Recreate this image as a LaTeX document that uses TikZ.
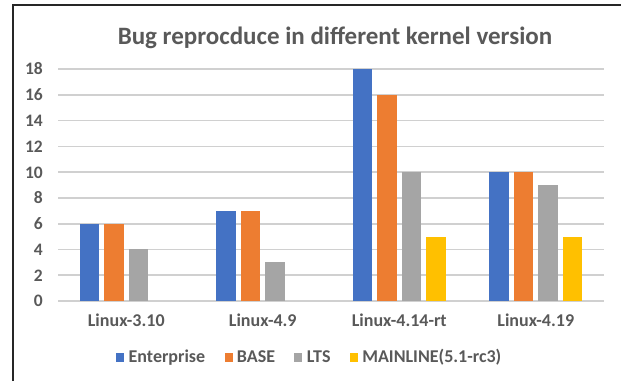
\documentclass[tikz,border=0pt]{standalone}
\usepackage{fontspec}
\setmainfont{Carlito}
\usetikzlibrary{positioning}
\definecolor{entblue}{HTML}{4472C4}
\definecolor{baseorange}{HTML}{ED7D31}
\definecolor{ltsgray}{HTML}{A5A5A5}
\definecolor{mainyellow}{HTML}{FFC000}
\definecolor{txtgray}{HTML}{595959}
\definecolor{gridgray}{HTML}{D0D0D0}

\begin{document}
\begin{tikzpicture}[x=1pt,y=-1pt,node distance=4pt]
\tikzstyle{gridln}=[draw=gridgray,line width=1.6pt]
\tikzstyle{ticktxt}=[anchor=base east,inner sep=0pt,text=txtgray,font=\fontsize{17.5}{19}\selectfont\bfseries]
\tikzstyle{cattxt}=[anchor=base,inner sep=0pt,text=txtgray,font=\fontsize{18}{20}\selectfont\bfseries]
\tikzstyle{legtxt}=[inner sep=0pt,text height=11pt,text depth=0pt,text=txtgray,font=\fontsize{18}{20}\selectfont\bfseries]
\tikzstyle{legsq}=[rectangle,inner sep=0pt,minimum width=8pt,minimum height=9pt]

\useasboundingbox (0,0) rectangle (621,381);
\draw[line width=1.5pt,black!85] (13,381) -- (13,5) -- (621,5);

\node[anchor=base,inner sep=0pt,text=txtgray,font=\fontsize{25}{28}\selectfont\bfseries] (title) at (335,44.5) {Bug reprocduce in different kernel version};

% grid lines and tick labels
\foreach \v in {0,2,...,18} {
  \draw[gridln] (58,{301-12.88*\v}) -- (604,{301-12.88*\v});
  \node[ticktxt] (tick\v) at (43,{306.8-12.88*\v}) {\v};
}

% bars
\foreach \lbl/\a/\b/\c/\d [count=\i from 0] in {Linux-3.10/6/6/4/0,Linux-4.9/7/7/3/0,Linux-4.14-rt/18/16/10/5,Linux-4.19/10/10/9/5} {
  \pgfmathsetmacro\cx{126.25+136.5*\i}
  \fill[entblue] ({\cx-46.65},301) rectangle ({\cx-27.15},{301-12.88*\a});
  \fill[baseorange] ({\cx-22.05},301) rectangle ({\cx-2.55},{301-12.88*\b});
  \fill[ltsgray] ({\cx+2.55},301) rectangle ({\cx+22.05},{301-12.88*\c});
  \ifnum\d>0
    \fill[mainyellow] ({\cx+27.15},301) rectangle ({\cx+46.65},{301-12.88*\d});
  \fi
  \node[cattxt] (cat\i) at (\cx,326.7) {\lbl};
}

% legend
\node[legsq,fill=entblue] (sqA) at (120.3,357) {};
\node[legtxt,right=4pt of sqA] (txA) {Enterprise};
\node[legsq,fill=baseorange,right=19pt of txA] (sqB) {};
\node[legtxt,right=4pt of sqB] (txB) {BASE};
\node[legsq,fill=ltsgray,right=19pt of txB] (sqC) {};
\node[legtxt,right=4pt of sqC] (txC) {LTS};
\node[legsq,fill=mainyellow,right=19pt of txC] (sqD) {};
\node[legtxt,right=4pt of sqD] (txD) {MAINLINE(5.1-rc3)};
\end{tikzpicture}
\end{document}
